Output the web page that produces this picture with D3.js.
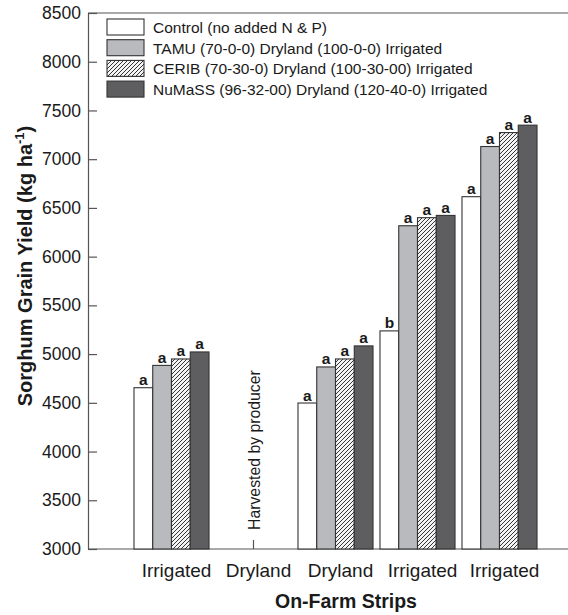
<!DOCTYPE html>
<html>
<head>
<meta charset="utf-8">
<script src="https://cdn.jsdelivr.net/npm/d3@7"></script>
<style>
body{margin:0;background:#fff;}
text{font-family:"Liberation Sans",Arial,Helvetica,sans-serif;fill:#1a1a1a;}
</style>
</head>
<body>
<svg id="chart" width="568" height="615"></svg>
<script>
const strips = ["Irrigated", "Dryland", "Dryland", "Irrigated", "Irrigated"];
const seriesNames = [
  "Control (no added N & P)",
  "TAMU (70-0-0) Dryland (100-0-0) Irrigated",
  "CERIB (70-30-0) Dryland (100-30-00) Irrigated",
  "NuMaSS (96-32-00) Dryland (120-40-0) Irrigated"
];
const control = [4655, null, 4498, 5238, 6615];
const tamu    = [4884, null, 4868, 6317, 7130];
const cerib   = [4950, null, 4950, 6400, 7273];
const numass  = [5022, null, 5084, 6423, 7349];
const controlLetters = ["a", null, "a", "b", "a"];
const tamuLetters    = ["a", null, "a", "a", "a"];
const ceribLetters   = ["a", null, "a", "a", "a"];
const numassLetters  = ["a", null, "a", "a", "a"];
const yTicks = [3000, 3500, 4000, 4500, 5000, 5500, 6000, 6500, 7000, 7500, 8000, 8500];
const harvestedNote = "Harvested by producer";

const seriesValues = [control, tamu, cerib, numass];
const seriesLetters = [controlLetters, tamuLetters, ceribLetters, numassLetters];
const fills = ["#ffffff", "#b9babe", "url(#hatch)", "#5e5e60"];

const svg = d3.select("#chart");
const defs = svg.append("defs");
const pat = defs.append("pattern").attr("id", "hatch").attr("patternUnits", "userSpaceOnUse")
  .attr("width", 4).attr("height", 4);
pat.append("rect").attr("width", 4).attr("height", 4).attr("fill", "#f4f4f4");
pat.append("path").attr("d", "M-1,1 l2,-2 M0,4 l4,-4 M3,5 l2,-2")
  .attr("stroke", "#333").attr("stroke-width", 1);

const mLeft = 88, mRight = 568, mTop = 13, mBottom = 549;

const y = d3.scaleLinear().domain([3000, 8500]).range([mBottom, mTop]);
const x0 = d3.scaleBand().domain(d3.range(strips.length)).range([130.5, 540.5])
  .paddingInner(0.085).paddingOuter(0.0425);
const x1 = d3.scaleBand().domain(d3.range(seriesNames.length)).range([0, x0.bandwidth()]);

// frame line
svg.append("line").attr("x1", mLeft).attr("x2", mRight).attr("y1", mTop).attr("y2", mTop)
  .attr("stroke", "#555").attr("stroke-width", 1.2);

// y axis
const yAxis = d3.axisLeft(y).tickValues(yTicks).tickFormat(d3.format("d"))
  .tickSizeInner(-9).tickSizeOuter(0).tickPadding(7);
const gy = svg.append("g").attr("transform", `translate(${mLeft},0)`).call(yAxis);
gy.select(".domain").attr("stroke", "#555").attr("stroke-width", 1.2);
gy.selectAll(".tick line").attr("stroke", "#555").attr("stroke-width", 1.2);
gy.selectAll(".tick text").attr("font-size", 17.5).attr("fill", "#1a1a1a")
  .style("font-family", "Liberation Sans, Arial, sans-serif");

// x axis
const xAxis = d3.axisBottom(x0).tickSizeInner(-9).tickSizeOuter(0).tickPadding(15)
  .tickFormat(i => strips[i]);
const gx = svg.append("g").attr("transform", `translate(0,${mBottom})`).call(xAxis);
gx.select(".domain").remove();
svg.append("line").attr("x1", mLeft).attr("x2", mRight).attr("y1", mBottom).attr("y2", mBottom)
  .attr("stroke", "#555").attr("stroke-width", 1.2);
gx.selectAll(".tick line").attr("stroke", "#555").attr("stroke-width", 1.2);
gx.selectAll(".tick text").attr("font-size", 19).attr("dx", 5).attr("fill", "#1a1a1a")
  .style("font-family", "Liberation Sans, Arial, sans-serif");

// bars
const groups = svg.append("g").selectAll("g").data(d3.range(strips.length)).join("g")
  .attr("transform", i => `translate(${x0(i)},0)`);
groups.each(function(gi) {
  const g = d3.select(this);
  seriesValues.forEach((vals, si) => {
    const v = vals[gi];
    if (v == null) return;
    g.append("rect")
      .attr("x", x1(si)).attr("width", x1.bandwidth())
      .attr("y", y(v)).attr("height", y(3000) - y(v))
      .attr("fill", fills[si]).attr("stroke", "#333").attr("stroke-width", 1.1);
    const l = seriesLetters[si][gi];
    if (l) {
      g.append("text").attr("x", x1(si) + x1.bandwidth() / 2).attr("y", y(v) - 2.5)
        .attr("text-anchor", "middle").attr("font-size", 15.5).attr("font-weight", "bold")
        .text(l);
    }
  });
});

// harvested note
const hx = x0(1) + x0.bandwidth() / 2;
svg.append("text").attr("transform", `translate(${hx + 6},530) rotate(-90)`)
  .attr("font-size", 15.8).text(harvestedNote);

// legend
const legend = svg.append("g");
seriesNames.forEach((n, i) => {
  const ly = 19 + i * 20.7;
  legend.append("rect").attr("x", 107).attr("y", ly).attr("width", 37).attr("height", 16)
    .attr("fill", fills[i]).attr("stroke", "#333").attr("stroke-width", 1.1);
  legend.append("text").attr("x", 153).attr("y", ly + 14).attr("font-size", 15.5).text(n);
});

// axis titles
svg.append("text").attr("x", 346).attr("y", 608).attr("text-anchor", "middle")
  .attr("font-size", 19.5).attr("font-weight", "bold").text("On-Farm Strips");

const yt = svg.append("text").attr("transform", "translate(32,266) rotate(-90)")
  .attr("text-anchor", "middle").attr("font-size", 20).attr("font-weight", "bold");
yt.append("tspan").text("Sorghum Grain Yield (kg ha");
yt.append("tspan").attr("dy", -8).attr("font-size", 13).text("-1");
yt.append("tspan").attr("dy", 8).text(")");
</script>
</body>
</html>
